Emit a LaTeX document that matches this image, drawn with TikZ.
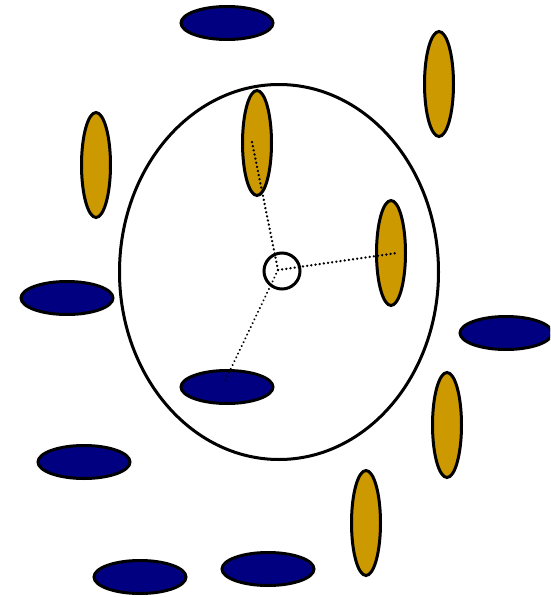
\documentclass[tikz,border=0pt]{standalone}
\usetikzlibrary{shapes.geometric}
\definecolor{navyb}{RGB}{0,0,128}
\definecolor{goldy}{RGB}{204,153,0}
\begin{document}
\begin{tikzpicture}[x=1pt,y=-1pt,
  blueell/.style={ellipse,draw=black,line width=3pt,fill=navyb,inner sep=0pt,minimum width=92pt,minimum height=33pt},
  goldell/.style={ellipse,draw=black,line width=3pt,fill=goldy,inner sep=0pt,minimum width=29pt,minimum height=105pt},
  link/.style={line width=2.6pt,dash pattern=on 0.01pt off 4.2pt,line cap=round}]
\useasboundingbox (0,0) rectangle (550,597);
\clip (0,0) rectangle (550,597);
\node[ellipse,draw=black,line width=3pt,inner sep=0pt,minimum width=319pt,minimum height=375pt] (big) at (279,272) {};
\node[circle,draw=black,line width=3pt,inner sep=0pt,minimum size=36pt] (hub) at (282,271) {};
\coordinate (c) at (278,270);
% blue
\node[blueell] (b1) at (227,23) {};
\node[blueell] (b2) at (67,298) {};
\node[blueell] (b3) at (506,333) {};
\node[blueell] (b4) at (227,387) {};
\node[blueell] (b5) at (84,462) {};
\node[blueell] (b6) at (140,577) {};
\node[blueell] (b7) at (268,569) {};
% gold
\node[goldell] (g1) at (439,84) {};
\node[goldell] (g2) at (96,165) {};
\node[goldell] (g3) at (257,143) {};
\node[goldell] (g4) at (391,253) {};
\node[goldell] (g5) at (447,425) {};
\node[goldell] (g6) at (366,523) {};
\coordinate (e1) at (252,142);
\coordinate (e2) at (397,253);
\coordinate (e3) at (225,381);
\draw[link] (c) -- (e1);
\draw[link] (c) -- (e2);
\draw[link,line width=2.2pt] (c) -- (e3);
\end{tikzpicture}
\end{document}
